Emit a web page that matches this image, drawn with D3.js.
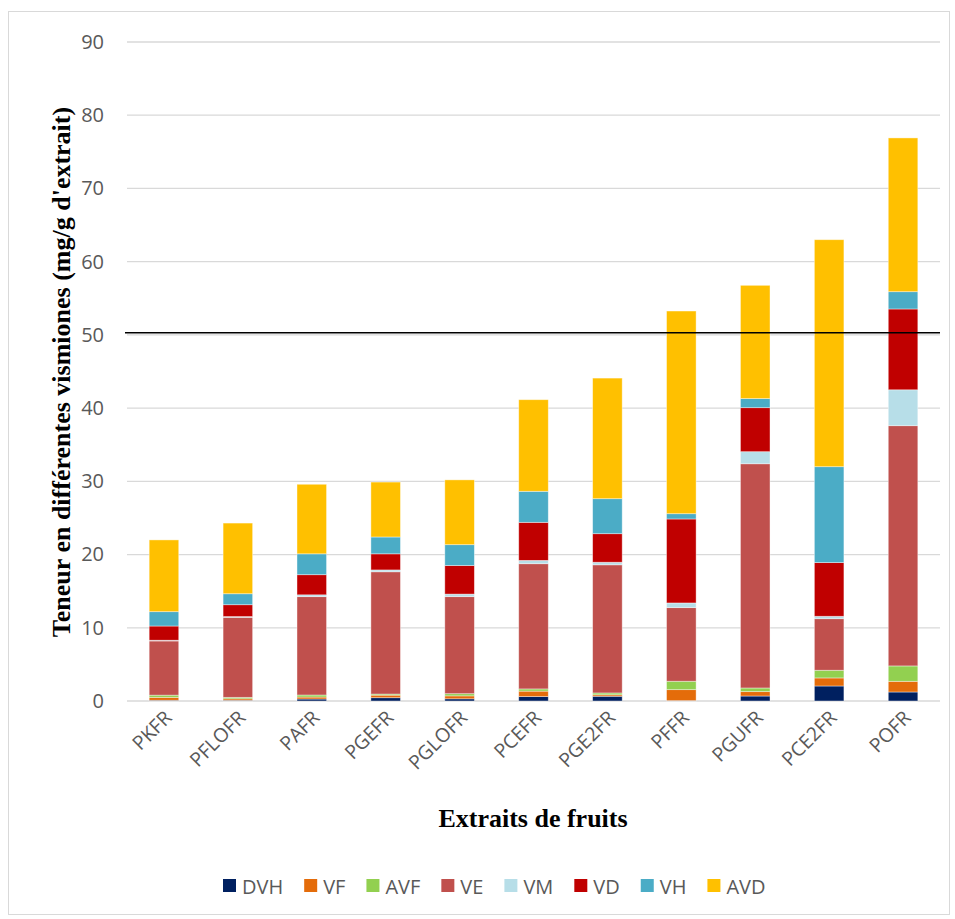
<!DOCTYPE html>
<html>
<head>
<meta charset="utf-8">
<script src="https://cdn.jsdelivr.net/npm/d3@7"></script>
<style>
  body { margin: 0; background: #fff; }
  svg { display: block; }
</style>
</head>
<body>
<svg id="chart" width="955" height="919"></svg>
<script>
// categories and stacked series (mg/g of extract), bottom to top
var extracts = ["PKFR", "PFLOFR", "PAFR", "PGEFR", "PGLOFR", "PCEFR", "PGE2FR", "PFFR", "PGUFR", "PCE2FR", "POFR"];
var seriesNames = ["DVH", "VF", "AVF", "VE", "VM", "VD", "VH", "AVD"];

var DVH = [0.1, 0.1, 0.27, 0.45, 0.3, 0.6, 0.65, 0.05, 0.68, 2.05, 1.23];
var VF  = [0.4, 0.2, 0.27, 0.35, 0.4, 0.75, 0.2, 1.5, 0.6, 1.1, 1.46];
var AVF = [0.3, 0.2, 0.28, 0.15, 0.3, 0.3, 0.25, 1.15, 0.5, 1.05, 2.1];
var VE  = [7.4, 10.93, 13.43, 16.7, 13.25, 17.1, 17.5, 10.05, 30.62, 7.04, 32.81];
var VM  = [0.1, 0.1, 0.25, 0.25, 0.35, 0.45, 0.35, 0.64, 1.65, 0.33, 4.9];
var VD  = [1.94, 1.62, 2.75, 2.2, 3.9, 5.2, 3.9, 11.47, 6.01, 7.33, 11.04];
var VH  = [1.96, 1.5, 2.85, 2.3, 2.85, 4.24, 4.78, 0.72, 1.24, 13.1, 2.36];
var AVD = [9.8, 9.65, 9.5, 7.5, 8.85, 12.51, 16.47, 27.68, 15.47, 31.0, 21.0];

var seriesColors = ["#002060", "#E46C0A", "#92D050", "#C0504D", "#B7DEE8", "#C00000", "#4BACC6", "#FFC000"];
var yTicks = [0, 10, 20, 30, 40, 50, 60, 70, 80, 90];
var refLine = 50.3;   // horizontal black line

var seriesValues = [DVH, VF, AVF, VE, VM, VD, VH, AVD];

var rows = extracts.map(function(name, i){
  var r = {name: name};
  seriesNames.forEach(function(s, k){ r[s] = seriesValues[k][i]; });
  return r;
});

var svg = d3.select("#chart");
// plot area (note: "top" is reserved on window, so prefix these)
var plotLeft = 127, plotRight = 940, plotTop = 42, plotBottom = 701;

// outer frame
svg.append("rect")
  .attr("x", 8.5).attr("y", 11.5)
  .attr("width", 941).attr("height", 903)
  .attr("fill", "none").attr("stroke", "#d9d9d9").attr("stroke-width", 1);

var x = d3.scaleBand().domain(extracts).range([plotLeft, plotRight]).paddingInner(0.6).paddingOuter(0.3);
var y = d3.scaleLinear().domain([0, 90]).range([plotBottom, plotTop]);

// gridlines
svg.append("g")
  .selectAll("line")
  .data(yTicks)
  .enter().append("line")
  .attr("x1", plotLeft).attr("x2", plotRight)
  .attr("y1", function(d){ return y(d); })
  .attr("y2", function(d){ return y(d); })
  .attr("stroke", "#d9d9d9").attr("stroke-width", 1.3);

// y tick labels
var yAxis = svg.append("g")
  .attr("transform", "translate(" + (plotLeft - 4) + ",0)")
  .call(d3.axisLeft(y).tickValues(yTicks).tickSize(0).tickPadding(19));
yAxis.select(".domain").remove();
yAxis.selectAll("text")
  .attr("fill", "#595959")
  .style("font-family", "'Open Sans', sans-serif")
  .style("font-size", "20px");

// stacked bars
var stack = d3.stack().keys(seriesNames);
var layers = stack(rows);

svg.append("g")
  .selectAll("g")
  .data(layers)
  .enter().append("g")
  .attr("fill", function(d, i){ return seriesColors[i]; })
  .selectAll("rect")
  .data(function(d){ return d; })
  .enter().append("rect")
  .attr("x", function(d){ return x(d.data.name); })
  .attr("width", x.bandwidth())
  .attr("y", function(d){ return y(d[1]); })
  .attr("height", function(d){ return y(d[0]) - y(d[1]); })
  .attr("stroke", "#fff").attr("stroke-opacity", 0.5).attr("stroke-width", 0.8);

// reference line
svg.append("line")
  .attr("x1", plotLeft - 2).attr("x2", plotRight)
  .attr("y1", y(refLine)).attr("y2", y(refLine))
  .attr("stroke", "#000").attr("stroke-width", 1.5);

// x category labels
var xAxis = svg.append("g")
  .attr("transform", "translate(0," + plotBottom + ")")
  .call(d3.axisBottom(x).tickSize(0).tickPadding(0));
xAxis.select(".domain").remove();
xAxis.selectAll("text")
  .attr("fill", "#595959")
  .style("font-family", "'Open Sans', sans-serif")
  .style("font-size", "19.5px")
  .attr("text-anchor", "end")
  .attr("dy", null).attr("y", 0)
  .attr("transform", "translate(9,18) rotate(-45)");

// axis titles
svg.append("text")
  .attr("transform", "translate(70,372) rotate(-90)")
  .attr("text-anchor", "middle")
  .style("font-family", "'Liberation Serif', 'Times New Roman', serif")
  .style("font-weight", "bold")
  .style("font-size", "26px")
  .text("Teneur en différentes vismiones (mg/g d'extrait)");

svg.append("text")
  .attr("x", 533).attr("y", 827)
  .attr("text-anchor", "middle")
  .style("font-family", "'Liberation Serif', 'Times New Roman', serif")
  .style("font-weight", "bold")
  .style("font-size", "26px")
  .text("Extraits de fruits");

// legend
var legend = svg.append("g").attr("transform", "translate(223,886)");
var lx = 0;
seriesNames.forEach(function(s, i){
  var item = legend.append("g").attr("transform", "translate(" + lx + ",0)");
  item.append("rect").attr("x", 0).attr("y", -7).attr("width", 13).attr("height", 13).attr("fill", seriesColors[i]);
  var t = item.append("text")
    .attr("x", 19).attr("y", 7.5)
    .attr("fill", "#595959")
    .style("font-family", "'Open Sans', sans-serif")
    .style("font-size", "20px")
    .text(s);
  lx += 19 + t.node().getComputedTextLength() + 21;
});
</script>
</body>
</html>
